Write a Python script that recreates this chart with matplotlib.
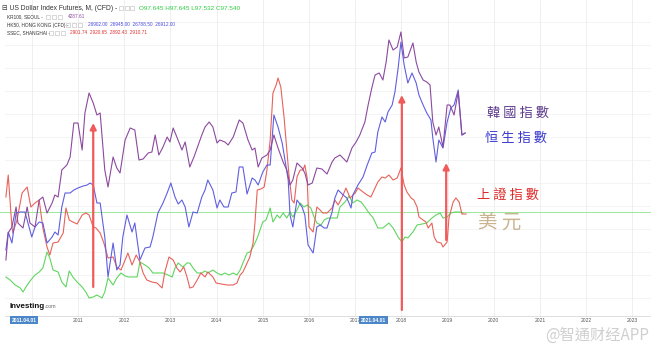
import numpy as np
import matplotlib.pyplot as plt
from matplotlib.patches import Rectangle

plt.rcParams['font.family'] = ['DejaVu Sans']

# (年份, 相对水平) 月线，从截图读出
kospi = [(2009.44, 56), (2009.49, 83), (2009.57, 89), (2009.66, 109), (2009.70, 93), (2009.81, 88),
         (2009.90, 109), (2009.96, 93), (2010.07, 89), (2010.16, 116), (2010.24, 119), (2010.33, 103),
         (2010.44, 113), (2010.50, 121), (2010.57, 119), (2010.65, 146), (2010.76, 151), (2010.83, 159),
         (2010.91, 193), (2011.00, 193), (2011.09, 166), (2011.15, 203), (2011.24, 223), (2011.33, 213),
         (2011.41, 201), (2011.48, 203), (2011.58, 146), (2011.65, 129), (2011.76, 159), (2011.84, 148),
         (2011.91, 143), (2012.02, 176), (2012.13, 188), (2012.23, 186), (2012.32, 156), (2012.41, 157),
         (2012.52, 163), (2012.60, 164), (2012.67, 181), (2012.75, 161), (2012.84, 169), (2012.93, 179),
         (2012.99, 174), (2013.06, 188), (2013.14, 179), (2013.25, 166), (2013.32, 174), (2013.42, 149),
         (2013.51, 159), (2013.58, 168), (2013.68, 181), (2013.75, 189), (2013.84, 194), (2013.92, 189),
         (2014.01, 173), (2014.07, 176), (2014.18, 174), (2014.25, 171), (2014.36, 179), (2014.49, 196),
         (2014.57, 193), (2014.68, 176), (2014.77, 166), (2014.83, 168), (2014.90, 149), (2014.98, 158),
         (2015.09, 161), (2015.16, 166), (2015.24, 181), (2015.33, 168), (2015.44, 154), (2015.52, 146),
         (2015.59, 131), (2015.65, 136), (2015.74, 153), (2015.85, 148), (2015.91, 143), (2015.98, 131),
         (2016.07, 133), (2016.17, 148), (2016.28, 147), (2016.39, 142), (2016.50, 154), (2016.56, 158),
         (2016.67, 161), (2016.82, 154), (2016.93, 168), (2017.02, 174), (2017.10, 181), (2017.21, 194),
         (2017.28, 211), (2017.36, 228), (2017.43, 241), (2017.52, 243), (2017.60, 236), (2017.67, 254),
         (2017.73, 276), (2017.82, 266), (2017.91, 269), (2017.99, 284), (2018.06, 258), (2018.14, 259),
         (2018.25, 273), (2018.32, 254), (2018.38, 244), (2018.47, 236), (2018.55, 234), (2018.62, 231),
         (2018.68, 194), (2018.75, 181), (2018.81, 189), (2018.90, 169), (2018.99, 211), (2019.05, 211),
         (2019.14, 201), (2019.23, 224), (2019.31, 181), (2019.38, 183)]

hsi = [(2009.44, 66), (2009.49, 84), (2009.57, 73), (2009.66, 103), (2009.75, 104), (2009.85, 104),
       (2009.90, 96), (2010.00, 79), (2010.07, 89), (2010.16, 94), (2010.24, 93), (2010.33, 73),
       (2010.44, 79), (2010.50, 84), (2010.57, 81), (2010.65, 109), (2010.72, 123), (2010.83, 123),
       (2010.91, 126), (2011.00, 128), (2011.11, 130), (2011.20, 131), (2011.26, 133), (2011.33, 131),
       (2011.41, 113), (2011.48, 113), (2011.58, 79), (2011.65, 39), (2011.76, 73), (2011.84, 46),
       (2011.91, 51), (2011.97, 79), (2012.06, 101), (2012.17, 84), (2012.23, 93), (2012.34, 56),
       (2012.45, 68), (2012.56, 69), (2012.62, 79), (2012.73, 103), (2012.84, 113), (2012.93, 123),
       (2013.01, 133), (2013.10, 119), (2013.17, 112), (2013.25, 116), (2013.32, 109), (2013.40, 89),
       (2013.49, 104), (2013.58, 103), (2013.68, 119), (2013.75, 126), (2013.81, 136), (2013.92, 126),
       (2014.01, 108), (2014.07, 116), (2014.16, 109), (2014.25, 109), (2014.33, 123), (2014.42, 124),
       (2014.49, 149), (2014.57, 149), (2014.66, 122), (2014.77, 138), (2014.83, 136), (2014.90, 131),
       (2015.00, 144), (2015.09, 151), (2015.16, 151), (2015.24, 201), (2015.33, 189), (2015.42, 173),
       (2015.48, 156), (2015.55, 136), (2015.59, 101), (2015.65, 89), (2015.74, 116), (2015.85, 109),
       (2015.91, 101), (2015.98, 71), (2016.09, 63), (2016.17, 89), (2016.24, 91), (2016.33, 88),
       (2016.39, 88), (2016.50, 104), (2016.56, 118), (2016.63, 126), (2016.74, 121), (2016.82, 118),
       (2016.91, 108), (2016.95, 121), (2017.06, 131), (2017.17, 139), (2017.26, 151), (2017.36, 163),
       (2017.43, 164), (2017.49, 184), (2017.58, 199), (2017.65, 194), (2017.71, 204), (2017.80, 211),
       (2017.86, 224), (2017.93, 248), (2017.99, 274), (2018.06, 251), (2018.14, 233), (2018.23, 243),
       (2018.32, 233), (2018.38, 221), (2018.47, 211), (2018.55, 203), (2018.64, 196), (2018.68, 178),
       (2018.75, 154), (2018.81, 176), (2018.90, 168), (2018.99, 194), (2019.07, 208), (2019.14, 211),
       (2019.23, 226), (2019.31, 181), (2019.38, 183)]

ssec = [(2009.44, 119), (2009.49, 141), (2009.57, 89), (2009.59, 83), (2009.68, 96), (2009.79, 123),
        (2009.90, 129), (2009.98, 109), (2010.07, 113), (2010.16, 116), (2010.24, 88), (2010.33, 69),
        (2010.39, 61), (2010.46, 73), (2010.57, 74), (2010.68, 83), (2010.74, 108), (2010.81, 96),
        (2010.89, 94), (2010.98, 92), (2011.09, 101), (2011.17, 103), (2011.24, 101), (2011.33, 89),
        (2011.39, 88), (2011.48, 83), (2011.56, 73), (2011.65, 58), (2011.76, 59), (2011.84, 49),
        (2011.93, 46), (2012.02, 56), (2012.08, 63), (2012.17, 51), (2012.26, 61), (2012.34, 54),
        (2012.41, 43), (2012.49, 36), (2012.60, 34), (2012.71, 33), (2012.82, 28), (2012.88, 44),
        (2012.97, 59), (2013.06, 56), (2013.14, 48), (2013.21, 44), (2013.29, 49), (2013.36, 39),
        (2013.42, 28), (2013.49, 29), (2013.58, 36), (2013.66, 43), (2013.75, 39), (2013.81, 44),
        (2013.92, 39), (2013.99, 33), (2014.10, 32), (2014.23, 31), (2014.36, 31), (2014.44, 33),
        (2014.51, 41), (2014.57, 44), (2014.66, 53), (2014.72, 59), (2014.79, 73), (2014.83, 93),
        (2014.88, 126), (2014.96, 127), (2015.03, 129), (2015.09, 146), (2015.16, 176), (2015.22, 223),
        (2015.29, 231), (2015.33, 238), (2015.39, 229), (2015.46, 199), (2015.52, 166), (2015.57, 139),
        (2015.63, 116), (2015.68, 113), (2015.74, 139), (2015.81, 146), (2015.87, 146), (2015.91, 151),
        (2015.96, 138), (2016.00, 89), (2016.09, 84), (2016.17, 109), (2016.24, 106), (2016.30, 103),
        (2016.39, 103), (2016.50, 108), (2016.56, 116), (2016.63, 111), (2016.72, 119), (2016.80, 128),
        (2016.89, 118), (2017.00, 123), (2017.06, 128), (2017.17, 124), (2017.26, 121), (2017.34, 119),
        (2017.43, 128), (2017.49, 134), (2017.58, 139), (2017.65, 138), (2017.73, 141), (2017.82, 136),
        (2017.91, 138), (2017.99, 148), (2018.06, 131), (2018.12, 124), (2018.21, 118), (2018.27, 116),
        (2018.34, 109), (2018.38, 99), (2018.47, 96), (2018.53, 94), (2018.58, 88), (2018.66, 93),
        (2018.71, 79), (2018.77, 74), (2018.86, 73), (2018.90, 69), (2018.99, 74), (2019.03, 98),
        (2019.12, 114), (2019.18, 118), (2019.25, 114), (2019.31, 102), (2019.40, 102)]

usd = [(2009.44, 39), (2009.53, 36), (2009.64, 31), (2009.75, 28), (2009.81, 24), (2009.90, 31),
       (2009.98, 36), (2010.07, 41), (2010.16, 44), (2010.24, 48), (2010.33, 64), (2010.39, 58),
       (2010.46, 46), (2010.57, 44), (2010.65, 34), (2010.74, 29), (2010.81, 45), (2010.89, 39),
       (2010.98, 34), (2011.09, 29), (2011.17, 24), (2011.24, 18), (2011.33, 19), (2011.41, 21),
       (2011.52, 18), (2011.58, 24), (2011.65, 38), (2011.76, 31), (2011.84, 38), (2011.93, 43),
       (2012.02, 40), (2012.10, 39), (2012.21, 39), (2012.28, 39), (2012.34, 54), (2012.45, 51),
       (2012.54, 48), (2012.62, 43), (2012.73, 43), (2012.84, 43), (2012.95, 41), (2013.04, 39),
       (2013.10, 48), (2013.17, 53), (2013.27, 49), (2013.36, 53), (2013.42, 53), (2013.49, 48),
       (2013.58, 43), (2013.68, 43), (2013.75, 45), (2013.81, 43), (2013.92, 46), (2014.01, 43),
       (2014.10, 41), (2014.18, 43), (2014.27, 41), (2014.36, 43), (2014.44, 41), (2014.51, 46),
       (2014.57, 53), (2014.66, 63), (2014.72, 64), (2014.79, 69), (2014.88, 78), (2014.94, 86),
       (2015.00, 94), (2015.07, 96), (2015.16, 108), (2015.22, 94), (2015.31, 101), (2015.37, 98),
       (2015.44, 103), (2015.52, 98), (2015.59, 104), (2015.65, 99), (2015.74, 106), (2015.81, 113),
       (2015.89, 109), (2015.96, 111), (2016.04, 108), (2016.11, 99), (2016.17, 93), (2016.26, 91),
       (2016.33, 96), (2016.41, 98), (2016.52, 98), (2016.61, 98), (2016.67, 109), (2016.78, 114),
       (2016.87, 120), (2016.95, 113), (2017.04, 116), (2017.13, 114), (2017.21, 109), (2017.30, 103),
       (2017.39, 98), (2017.49, 88), (2017.60, 88), (2017.73, 93), (2017.82, 88), (2017.93, 79),
       (2018.01, 74), (2018.08, 79), (2018.14, 78), (2018.25, 84), (2018.34, 91), (2018.45, 92),
       (2018.55, 93), (2018.66, 98), (2018.75, 101), (2018.84, 103), (2018.90, 98), (2018.99, 99),
       (2019.07, 103), (2019.16, 104), (2019.27, 104), (2019.33, 103)]
usd_last = 104

tick_years = list(range(2011, 2024))
grid_years = list(range(2010, 2024))
# 红色箭头: (x, 起点, 终点)
arrows = [(2011.33, 29, 193), (2018.01, 6, 221), (2018.97, 76, 153)]

W, H = 664, 354
fig = plt.figure(figsize=(W / 100, H / 100), dpi=100)
ax = fig.add_axes([0, 0, 1, 1])
x0 = 2009.312
ax.set_xlim(x0, x0 + W / 46.2)
ax.set_ylim(-38, 316)
ax.axis('off')

x_end = x0 + 650 / 46.2
# 网格
for lv in np.arange(18, 316, 23):
    ax.plot([x0 + 5 / 46.2, x_end], [lv, lv], color='#f2f2f2', lw=0.6, zorder=0)
for yr in grid_years:
    ax.plot([yr, yr], [0, 316], color='#ececec', lw=0.6, zorder=0)
ax.plot([x0 + 5 / 46.2, x_end], [0, 0], color='#d8d8d8', lw=0.6)

ax.axhline(usd_last, xmin=0, xmax=650 / W, color='#9be89b', lw=0.7, zorder=1)

for data, col in [(usd, '#5fd65f'), (ssec, '#e8625a'), (hsi, '#5f5fe2'), (kospi, '#8c4a9e')]:
    t = [p[0] for p in data]
    v = [p[1] for p in data]
    ax.plot(t, v, color=col, lw=0.8, zorder=2)

for x, a, b in arrows:
    ax.annotate('', xy=(x, b), xytext=(x, a),
                arrowprops=dict(arrowstyle='-|>', color='#f05a5a', lw=1.6, mutation_scale=9,
                                shrinkA=0, shrinkB=0), zorder=3)

lat = ['Liberation Sans', 'DejaVu Sans']

# x 轴标签
for yr in tick_years:
    ax.text(yr, -4, str(yr), fontsize=3.6, color='#555555', ha='center', va='center', family=lat)
for xc, lab in [(2009.83, '2011.04.01'), (2017.40, '2021.04.01')]:
    ax.text(xc, -4, lab, fontsize=3.6, color='white', ha='center', va='center', fontweight='bold',
            family=lat, bbox=dict(boxstyle='square,pad=0.35', fc='#4a86c8', ec='none'))


def fx(x):
    return x / W


def fy(y):
    return 1 - y / H


# 表头
fig.text(fx(2), fy(8), '⊟ US Dollar Index Futures, M, (CFD) -', fontsize=4.9, color='#333333',
         va='center', family=lat)
fig.text(fx(139), fy(8), 'O97.645 H97.645 L97.532 C97.540', fontsize=4.6, color='#2ecc40',
         va='center', family=lat)
rows = [('KR100, SEOUL -', 17, 46, '4287.61', '#8c4a9e', 68),
        ('HK50, HONG KONG (CFD) -', 25, 66, '26902.00  26945.00  26788.50  26912.00', '#4b4be0', 88),
        ('SSEC, SHANGHAI -', 33, 49, '2901.74  2920.65  2892.43  2910.71', '#e03030', 70)]
for name, y, bx, vals, col, vx in rows:
    fig.text(fx(7), fy(y), name, fontsize=3.4, color='#333333', va='center', family=lat)
    fig.text(fx(vx), fy(y), vals, fontsize=3.4, color=col, va='center', family=lat)
    for k in range(3):
        fig.patches.append(Rectangle((fx(bx + k * 6), fy(y + 2.2)), 4.4 / W, 4.4 / H,
                                     transform=fig.transFigure, fc='none', ec='#bbbbbb', lw=0.4))
for k in range(3):
    fig.patches.append(Rectangle((fx(119 + k * 5.5), fy(10.2)), 4.4 / W, 4.4 / H,
                                 transform=fig.transFigure, fc='none', ec='#bbbbbb', lw=0.4))

fig.text(fx(10), fy(306), 'Investing', fontsize=5.8, fontweight='bold', color='#111111',
         va='center', family=lat)
fig.text(fx(45), fy(307), '.com', fontsize=3.8, color='#666666', va='center', family=lat)

cjk = ['Noto Sans CJK TC', 'DejaVu Sans']
fig.text(fx(487), fy(113), '韓 國 指 數', fontsize=9.5, color='#5c3a8c', va='center', family=cjk)
fig.text(fx(485), fy(138), '恒 生 指 數', fontsize=9.5, color='#3a3ad0', va='center', family=cjk)
fig.text(fx(477), fy(195), '上 證 指 數', fontsize=9.5, color='#e02a2a', va='center', family=cjk)
fig.text(fx(478), fy(223), '美 元', fontsize=14, color='#c9b48f', va='center', family=cjk)
fig.text(fx(545), fy(335), '@智通财经APP', fontsize=11, color='#cfcfcf', va='center', family=cjk)

fig.savefig('out.png', dpi=100)
